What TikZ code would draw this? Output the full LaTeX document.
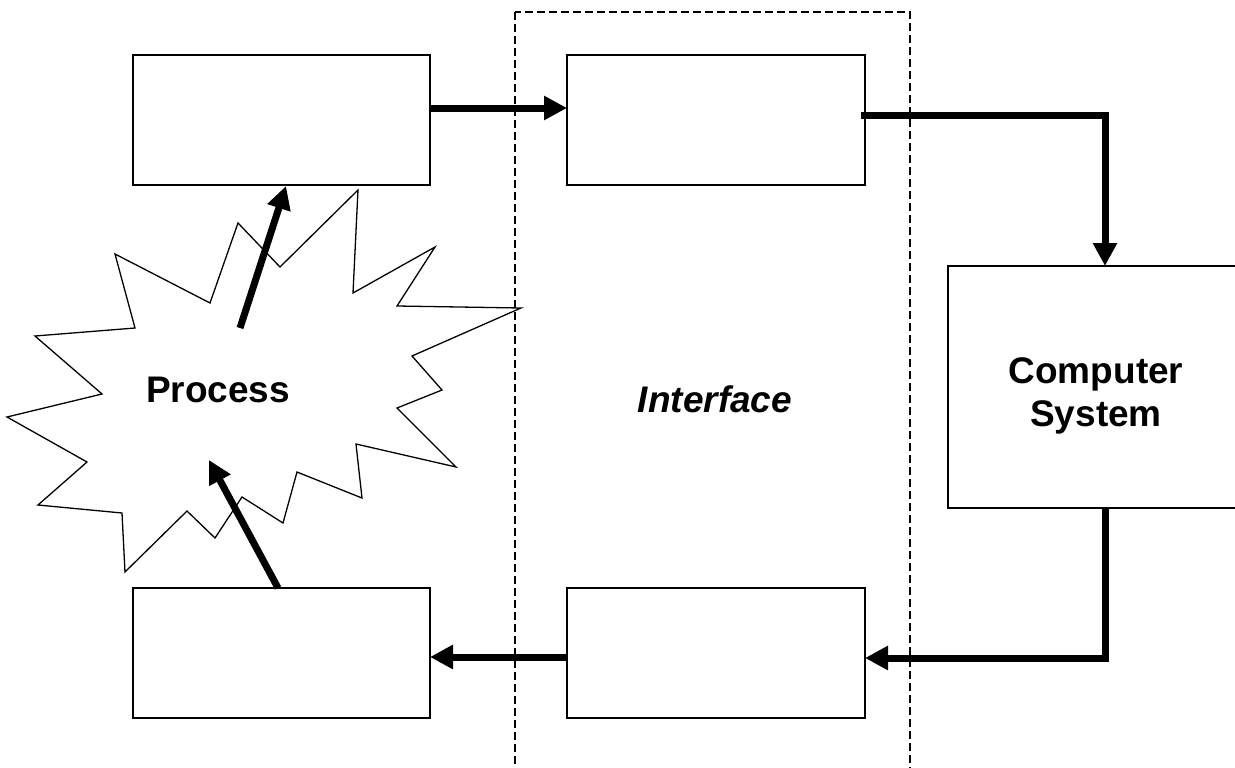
\documentclass[tikz,border=0pt]{standalone}
\usepackage{fontspec}
\setmainfont{Liberation Sans}
\usetikzlibrary{arrows.meta}
\begin{document}
\begin{tikzpicture}[x=1pt,y=-1pt,
  box/.style={draw,line width=1.3pt,inner sep=0pt,outer sep=0pt,rectangle},
  flow/.style={line width=7pt,-{Triangle[length=23pt,width=23pt]}},
  lbl/.style={font=\fontsize{37}{44}\selectfont\bfseries,align=center}]
\clip (0,0) rectangle (1235,768);
\fill[white] (0,0) rectangle (1235,768);
% interface region
\draw[line width=1.2pt,dash pattern=on 8pt off 4pt] (515,12) rectangle (910,790);
% starburst
\draw[line width=1.3pt,fill=white,line join=miter] (35,336) -- (135,328) -- (115,254) -- (210,303) -- (238,223) -- (280,267) -- (358,190) -- (353,293) -- (435,247) -- (397,306) -- (521,308) -- (412,356) -- (442,390) -- (397,408) -- (456,467) -- (356,444) -- (362,498) -- (297,472) -- (283,523) -- (242,497) -- (215,538) -- (187,511) -- (125,572) -- (122,513) -- (38,505) -- (87,462) -- (7,417) -- (102,394) -- cycle;
% boxes
\node[box,minimum width=297pt,minimum height=130pt] (tl) at (281.5,120) {};
\node[box,minimum width=298pt,minimum height=130pt] (tm) at (716,120) {};
\node[box,minimum width=297pt,minimum height=130pt] (bl) at (281.5,653) {};
\node[box,minimum width=298pt,minimum height=130pt] (bm) at (716,653) {};
\node[box,minimum width=310pt,minimum height=242pt] (cs) at (1103,387) {};
% labels
\node[lbl] (proc) at (218,390) {Process};
\node[lbl,font=\fontsize{37}{44}\selectfont\bfseries\itshape] (intf) at (715,399) {Interface};
\node[lbl,font=\fontsize{37}{43}\selectfont\bfseries] (cstext) at (1096,396) {Computer\\System};
% connectors
\coordinate (c1) at (1105,115);
\coordinate (c2) at (1105,658);
\draw[flow] ([yshift=12pt]tl.east) -- ([yshift=12pt]tm.west);
\draw[flow,line cap=butt] ([xshift=-4pt,yshift=5pt]tm.east) -- (c1) -- (c1 |- cs.north);
\draw[flow] (c1 |- cs.south) -- (c2) -- ([yshift=-5pt]bm.east);
\draw[flow] ([yshift=-4pt]bm.west) -- ([yshift=-4pt]bl.east);
\draw[flow] (240,328) -- (286,186);
\draw[flow] (bl.north -| 278,0) -- (209,460);
\end{tikzpicture}
\end{document}
